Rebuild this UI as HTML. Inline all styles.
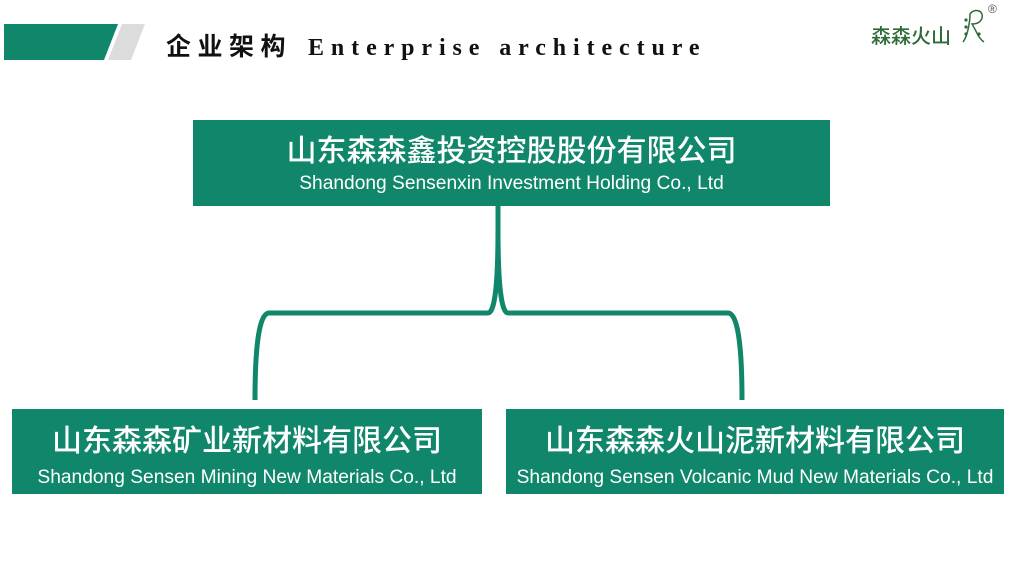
<!DOCTYPE html>
<html><head><meta charset="utf-8"><style>
body{margin:0;width:1024px;height:576px;background:#fff;position:relative;overflow:hidden;font-family:"Liberation Sans","Noto Sans CJK SC",sans-serif}
.box{position:absolute;background:#10876a;color:#fff;text-align:center}
.cn{font-size:30px;font-weight:500;line-height:36px;white-space:nowrap}
.en{font-size:19.2px;line-height:22px;white-space:nowrap}
</style></head><body>
<svg width="1024" height="576" style="position:absolute;left:0;top:0">
<polygon points="4,24 118,24 104,60 4,60" fill="#10876a"/>
<polygon points="122,24 145,24 131,60 108,60" fill="#dcdcdc"/>
<path d="M498,206 V230 C498,290 494,313 488,313 H269 C262,313 255,330 255,400" fill="none" stroke="#10876a" stroke-width="5"/>
<path d="M498,206 V230 C498,290 502,313 508,313 H728 C735,313 742,330 742,400" fill="none" stroke="#10876a" stroke-width="5"/>
<g fill="#2f6b3a"><circle cx="966" cy="20" r="1.6"/><circle cx="966" cy="27" r="1.6"/><circle cx="966" cy="34" r="1.6"/><circle cx="979" cy="34" r="1.6"/></g>
<path d="M963,42 C968,36 970,20 970,14 C974,8 984,10 982,18 C980,24 974,24 972,24 C976,30 978,38 984,42" fill="none" stroke="#2f6b3a" stroke-width="1.5"/>
</svg>
<div style="position:absolute;left:166px;top:28px;font-size:24px;line-height:34px;font-weight:bold;color:#111;font-family:'Liberation Serif','Noto Sans CJK SC',serif;white-space:nowrap"><span style="font-family:'Noto Sans CJK SC',sans-serif;font-size:25px;letter-spacing:6.5px">企业架构</span><span style="margin-left:16px;letter-spacing:6.9px">Enterprise architecture</span></div>
<div style="position:absolute;left:871px;top:20px;font-size:20px;color:#2f6b3a;font-family:'Noto Sans CJK SC',sans-serif;font-weight:500">森森火山</div>
<div style="position:absolute;left:988px;top:2px;font-size:12px;color:#555">®</div>
<div class="box" style="left:193px;top:120px;width:637px;height:86px">
<div class="cn" style="margin-top:14px">山东森森鑫投资控股股份有限公司</div>
<div class="en" style="margin-top:3px">Shandong Sensenxin Investment Holding Co., Ltd</div></div>
<div class="box" style="left:12px;top:409px;width:470px;height:85px">
<div class="cn" style="margin-top:15px">山东森森矿业新材料有限公司</div>
<div class="en" style="margin-top:7px">Shandong Sensen Mining New Materials Co., Ltd</div></div>
<div class="box" style="left:506px;top:409px;width:498px;height:85px">
<div class="cn" style="margin-top:15px">山东森森火山泥新材料有限公司</div>
<div class="en" style="margin-top:7px">Shandong Sensen Volcanic Mud New Materials Co., Ltd</div></div>
</body></html>
